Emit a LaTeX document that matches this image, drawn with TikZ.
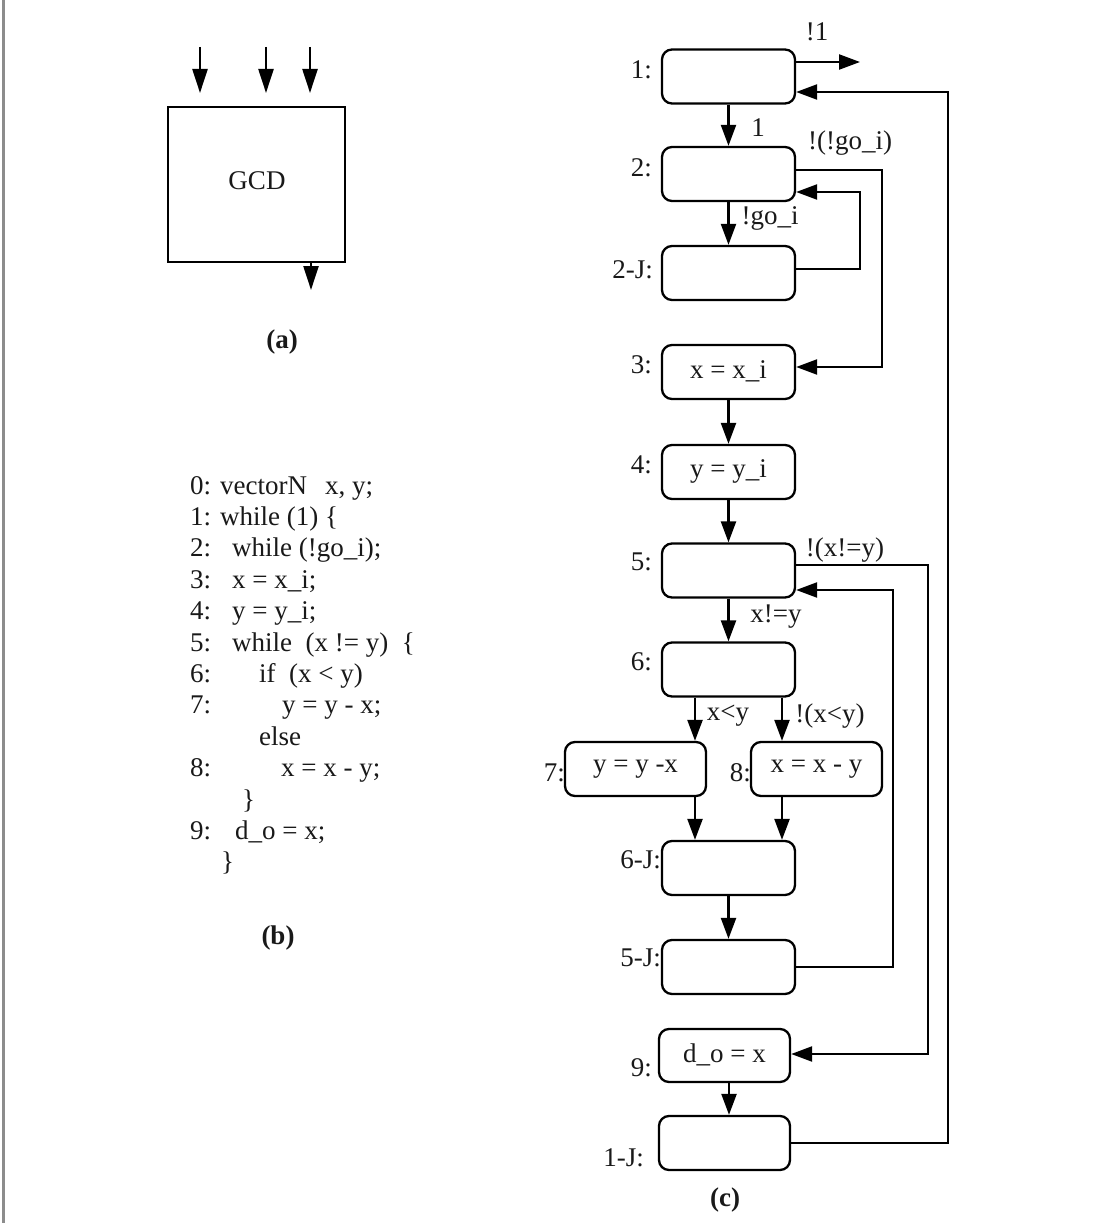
\documentclass[tikz,border=0pt]{standalone}
\usepackage{fontspec}
\setmainfont{Liberation Serif}
\usetikzlibrary{arrows.meta}
\begin{document}
\begin{tikzpicture}[x=1pt,y=-1pt,
  every node/.style={font=\fontsize{27}{32}\selectfont, text=black!90},
  box/.style={draw=black, line width=2.3pt, rounded corners=10pt, inner sep=0pt,
    minimum width=133pt, minimum height=54pt},
  lbl/.style={anchor=east, inner sep=0pt},
  code/.style={anchor=base west, inner sep=0pt},
  arr/.style={draw=black, line width=2.3pt, -{Triangle[length=21pt,width=15pt]}},
  inarr/.style={draw=black, line width=2.3pt, -{Triangle[length=24pt,width=15pt]}},
  captext/.style={font=\fontsize{27}{32}\selectfont\bfseries}
]
\useasboundingbox (0,0) rectangle (1107,1223);
\fill[white] (0,0) rectangle (1107,1223);
\draw[black!45, line width=3pt] (3,0) -- (3,1223);

% (a)
\node[draw=black, line width=2.3pt, minimum width=177pt, minimum height=155pt, inner sep=0pt] (gcd) at (256.5,184.5) {};
\node (gcdt) at (257,181) {GCD};
\coordinate (i1) at (200,47);
\coordinate (i2) at (266,47);
\coordinate (i3) at (310,47);
\coordinate (o1) at (311,290);
\draw[inarr] (i1) -- (200,93);
\draw[inarr] (i2) -- (266,93);
\draw[inarr] (i3) -- (310,93);
\draw[inarr] (311,0 |- gcd.south) -- (o1);
\node[captext] (capa) at (282,342) {(a)};

% (b)
\node[code] (c0) at (190,494) {0: vectorN\hspace{18pt}x, y;};
\node[code] (c1) at (190,525.4) {1: while (1) \{};
\node[code] (n2) at (190,556.8) {2:};
\node[code] (c2) at (232,556.8) {while (!go\_i);};
\node[code] (n3) at (190,588.2) {3:};
\node[code] (c3) at (232,588.2) {x = x\_i;};
\node[code] (n4) at (190,619.6) {4:};
\node[code] (c4) at (232,619.6) {y = y\_i;};
\node[code] (n5) at (190,651) {5:};
\node[code] (c5) at (232,651) {while\ \ (x != y)\ \ \{};
\node[code] (n6) at (190,682.4) {6:};
\node[code] (c6) at (259,682.4) {if\ \ (x < y)};
\node[code] (n7) at (190,713.8) {7:};
\node[code] (c7) at (282,713.8) {y = y - x;};
\node[code] (ce) at (259,745.2) {else};
\node[code] (n8) at (190,776.6) {8:};
\node[code] (c8) at (281,776.6) {x = x - y;};
\node[code] (cb1) at (242,808) {\}};
\node[code] (n9) at (190,839.4) {9:};
\node[code] (c9) at (235,839.4) {d\_o = x;};
\node[code] (cb2) at (221,870.8) {\}};
\node[captext] (capb) at (278,938) {(b)};

% (c)
\node[box] (b1) at (728.5,76.5) {};
\node[box] (b2) at (728.5,174) {};
\node[box] (b2J) at (728.5,273) {};
\node[box] (b3) at (728.5,372) {\raisebox{5pt}{x = x\_i}};
\node[box] (b4) at (728.5,472) {\raisebox{6pt}{y = y\_i}};
\node[box] (b5) at (728.5,570.5) {};
\node[box] (b6) at (728.5,669.5) {};
\node[box, minimum width=141pt] (b7) at (635.5,769) {\raisebox{5pt}{y = y -x}};
\node[box, minimum width=131pt] (b8) at (816.5,769) {\raisebox{5pt}{x = x - y}};
\node[box] (b6J) at (728.5,868) {};
\node[box] (b5J) at (728.5,967) {};
\node[box, minimum width=131pt, minimum height=53pt] (b9) at (724.5,1055.5) {\raisebox{5pt}{d\_o = x}};
\node[box, minimum width=131pt] (b1J) at (724.5,1143) {};

\node[lbl] (l1) at (652,70) {1:};
\node[lbl] (l2) at (652,168) {2:};
\node[lbl] (l2J) at (653,270) {2-J:};
\node[lbl] (l3) at (652,365) {3:};
\node[lbl] (l4) at (652,465) {4:};
\node[lbl] (l5) at (652,562) {5:};
\node[lbl] (l6) at (652,662) {6:};
\node[lbl] (l7) at (565,773) {7:};
\node[lbl] (l8) at (751,773) {8:};
\node[lbl] (l6J) at (661,860) {6-J:};
\node[lbl] (l5J) at (661,958) {5-J:};
\node[lbl] (l9) at (652,1068) {9:};
\node[lbl] (l1J) at (644,1158) {1-J:};
\node[captext] (capc) at (725,1200) {(c)};

% connectors
\coordinate (out1) at (860,62);
\draw[arr] ([yshift=14.5pt]b1.east) -- (out1);
\node (t1) at (817,32) {!1};
\draw[arr] (b1) -- (b2);
\node (t2) at (758,128) {1};
\draw[arr] (b2) -- (b2J);
\node (t3) at (770,218) {!go\_i};
\draw[arr] ([yshift=4pt]b2.east) -| (882,367) -- ([yshift=5pt]b3.east);
\node (t4) at (850,143) {!(!go\_i)};
\draw[arr] ([yshift=4pt]b2J.east) -| (860,192) -- ([yshift=-18pt]b2.east);
\draw[arr] (b3) -- (b4);
\draw[arr] (b4) -- (b5);
\draw[arr] (b5) -- (b6);
\node (t5) at (776,617) {x!=y};
\draw[arr] ([yshift=5.5pt]b5.east) -| (928,1054) -- ([yshift=1.5pt]b9.east);
\node (t6) at (845,550) {!(x!=y)};
\draw[arr] (b5J.east) -| (893,590) -- ([yshift=-19.5pt]b5.east);
\draw[arr] (695,0 |- b6.south) -- (695,0 |- b7.north);
\node (t7) at (728,716) {x<y};
\draw[arr] (782,0 |- b6.south) -- (782,0 |- b8.north);
\node (t8) at (830,716) {!(x<y)};
\draw[arr] (695,0 |- b7.south) -- (695,0 |- b6J.north);
\draw[arr] (782,0 |- b8.south) -- (782,0 |- b6J.north);
\draw[arr] (b6J) -- (b5J);
\draw[arr] (729,0 |- b9.south) -- (729,0 |- b1J.north);
\draw[arr] (b1J.east) -| (948,92) -- ([yshift=-15.5pt]b1.east);
\end{tikzpicture}
\end{document}
